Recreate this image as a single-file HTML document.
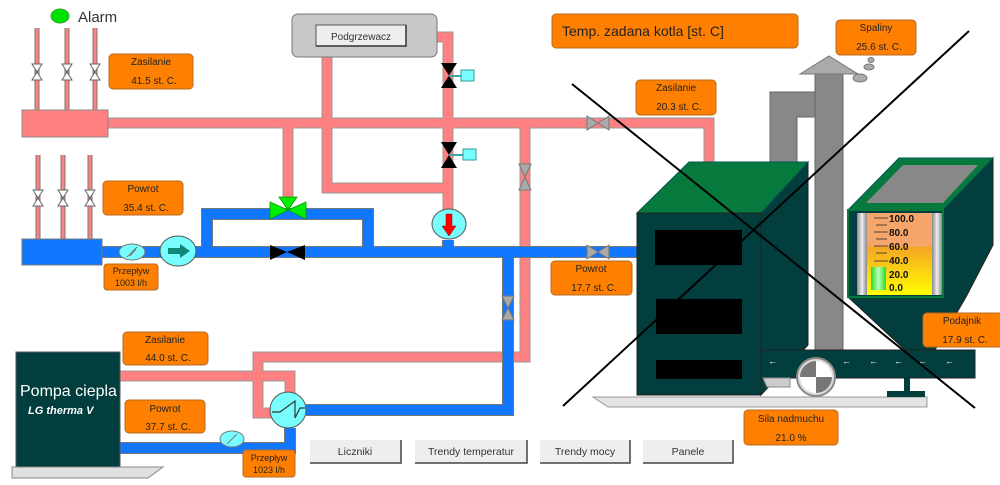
<!DOCTYPE html>
<html><head><meta charset="utf-8"><style>
html,body{margin:0;padding:0;background:#fff;width:1000px;height:485px;overflow:hidden}
svg text{font-family:"Liberation Sans",sans-serif}
</style></head><body>
<svg width="1000" height="485" viewBox="0 0 1000 485" xmlns="http://www.w3.org/2000/svg">
<defs>
<linearGradient id="gg" x1="0" y1="0" x2="0" y2="1">
<stop offset="0" stop-color="#f6a66a"/><stop offset="0.4" stop-color="#f6a66a"/><stop offset="0.42" stop-color="#f5a623"/><stop offset="1" stop-color="#ffff00"/></linearGradient>
<linearGradient id="gs" x1="0" y1="0" x2="1" y2="0"><stop offset="0" stop-color="#888"/><stop offset="0.5" stop-color="#eee"/><stop offset="1" stop-color="#888"/></linearGradient>
<linearGradient id="gb" x1="0" y1="0" x2="1" y2="0"><stop offset="0" stop-color="#22dd22"/><stop offset="0.5" stop-color="#bbffbb"/><stop offset="1" stop-color="#22dd22"/></linearGradient>
</defs>
<g fill="none" stroke-linejoin="miter">
<!-- red small risers -->
<g stroke="#777" stroke-width="5"><path d="M37 28V110M67 28V110M95 28V110M38 155V239M63 155V239M90 155V239"/></g>
<g stroke="#ff8080" stroke-width="3"><path d="M37 28V110M67 28V110M95 28V110M38 155V239M63 155V239M90 155V239"/></g>
<!-- red pipes outline -->
<g stroke="#999" stroke-width="11">
<path d="M108 123H709V163"/><path d="M288 123V200"/><path d="M327 57V188H445"/><path d="M437 37H448V210"/><path d="M525 123V357H258V413H272"/><path d="M120 376H290V393"/>
</g>
<g stroke="#ff8080" stroke-width="9">
<path d="M108 123H709V163"/><path d="M288 123V200"/><path d="M327 57V188H445"/><path d="M437 37H448V210"/><path d="M525 123V357H258V413H272"/><path d="M120 376H290V393"/>
</g>
<!-- blue pipes -->
<g stroke="#777" stroke-width="12">
<path d="M102 252H640"/><path d="M207 252V214H368V252"/><path d="M448 240V252"/><path d="M306 410H508V252"/><path d="M120 448H290V428"/>
</g>
<g stroke="#1177ff" stroke-width="10">
<path d="M102 252H640"/><path d="M207 252V214H368V252"/><path d="M448 240V252"/><path d="M306 410H508V252"/><path d="M120 448H290V428"/>
</g>
</g>
<!-- headers -->
<rect x="22" y="110" width="86" height="27" fill="#ff8080" stroke="#888"/>
<rect x="22" y="239" width="80" height="26" fill="#1177ff" stroke="#777"/>
<!-- small white valves -->
<g fill="#fff" stroke="#666" stroke-width="1">
<path d="M32 64H42L32 80H42Z"/><path d="M62 64H72L62 80H72Z"/><path d="M90 64H100L90 80H100Z"/>
<path d="M33 190H43L33 206H43Z"/><path d="M58 190H68L58 206H68Z"/><path d="M85 190H95L85 206H95Z"/>
</g>
<!-- Alarm -->
<ellipse cx="60" cy="16" rx="9" ry="7" fill="#00e000" stroke="#3a3"/>
<text x="78" y="22" font-size="15" fill="#333">Alarm</text>
<!-- Podgrzewacz -->
<rect x="292" y="14" width="145" height="43" rx="6" fill="#c8c8c8" stroke="#777"/>
<rect x="316" y="25" width="90" height="21" fill="#eee" stroke="#555" stroke-width="1"/>
<path d="M316 46H406V25" stroke="#333" stroke-width="1.5" fill="none"/>
<text x="361" y="40" font-size="10" text-anchor="middle" fill="#333">Podgrzewacz</text>
<!-- black valves with actuators -->
<g fill="#000"><path d="M441 63H457L441 88H457Z"/><path d="M441 142H457L441 168H457Z"/>
<path d="M270 245V260L287 252ZM305 245V260L287 252Z"/></g>
<g stroke="#3aa" stroke-width="2"><path d="M449 76H462M449 155H464"/></g>
<rect x="461" y="70" width="13" height="11" fill="#7ff" stroke="#399"/>
<rect x="463" y="149" width="13" height="11" fill="#7ff" stroke="#399"/>
<!-- green 3-way valve -->
<g fill="#00ee00" stroke="#090" stroke-width="0.8"><path d="M279 197H297L288 210Z"/><path d="M270 202V219L288 210Z"/><path d="M306 202V219L288 210Z"/></g>
<!-- gray valves -->
<g fill="#aaa" stroke="#777"><path d="M587 116V130L598 123ZM609 116V130L598 123Z"/><path d="M587 245V259L598 252ZM609 245V259L598 252Z"/>
<path d="M519 164H531L525 177ZM519 190H531L525 177Z"/><path d="M502 296H514L508 308ZM502 320H514L508 308Z"/></g>
<!-- pumps -->
<ellipse cx="449" cy="224" rx="17" ry="15" fill="#7ff" stroke="#555"/>
<path d="M446 214H452V226H456L449 236L442 226H446Z" fill="#f00" stroke="#900" stroke-width="0.5"/>
<ellipse cx="178" cy="251" rx="18" ry="15" fill="#7ff" stroke="#555"/>
<path d="M168 248H180V244L190 251L180 258V254H168Z" fill="#187" />
<ellipse cx="132" cy="252" rx="13" ry="8" fill="#7ff" stroke="#777"/>
<path d="M127 257L137 247M130 256L136 249" stroke="#777" stroke-width="1"/>
<ellipse cx="232" cy="439" rx="12" ry="8" fill="#7ff" stroke="#777"/>
<path d="M227 444L237 434" stroke="#777"/>
<!-- heat exchanger -->
<circle cx="288" cy="410" r="18" fill="#7ff" stroke="#555"/>
<path d="M272 412H280L295 401V418L300 408H305" stroke="#333" fill="none" stroke-width="1.2"/>
<!-- heat pump -->
<rect x="16" y="352" width="104" height="115" fill="#023e3e" stroke="#555"/>
<path d="M12 467H163L148 478H12Z" fill="#e0e0e0" stroke="#888"/>
<text x="20" y="396" font-size="16" fill="#fff">Pompa ciepla</text>
<text x="28" y="414" font-size="11" fill="#fff" font-weight="bold" font-style="italic">LG therma V</text>
<!-- buttons -->
<g font-size="10.5" fill="#333" text-anchor="middle">
<rect x="310" y="440" width="91" height="23" fill="#eee"/><path d="M310 463H401V440" stroke="#444" stroke-width="1.5" fill="none"/><text x="355" y="455">Liczniki</text>
<rect x="415" y="440" width="112" height="23" fill="#eee"/><path d="M415 463H527V440" stroke="#444" stroke-width="1.5" fill="none"/><text x="471" y="455">Trendy temperatur</text>
<rect x="540" y="440" width="90" height="23" fill="#eee"/><path d="M540 463H630V440" stroke="#444" stroke-width="1.5" fill="none"/><text x="585" y="455">Trendy mocy</text>
<rect x="643" y="440" width="90" height="23" fill="#eee"/><path d="M643 463H733V440" stroke="#444" stroke-width="1.5" fill="none"/><text x="688" y="455">Panele</text>
</g>
<!-- chimney -->
<path d="M770 92H815V117H797V162H770Z" fill="#888" stroke="#666"/>
<rect x="815" y="74" width="28" height="278" fill="#888" stroke="#666"/>
<path d="M800 74L829 56L858 74Z" fill="#aaa" stroke="#777"/>
<ellipse cx="860" cy="78" rx="7" ry="4" fill="#aaa" stroke="#777"/>
<ellipse cx="869" cy="67" rx="5" ry="3" fill="#aaa" stroke="#777"/>
<ellipse cx="871" cy="60" rx="3" ry="2.5" fill="#aaa" stroke="#777"/>
<!-- boiler -->
<path d="M593 397H927V407H608Z" fill="#e4e4e4" stroke="#999"/>
<path d="M761 213L808 162V345L761 395Z" fill="#023e3e" stroke="#222"/>
<path d="M637 213L689 162H808L761 213Z" fill="#067a3c" stroke="#055"/>
<rect x="637" y="213" width="124" height="182" fill="#023e3e" stroke="#222"/>
<rect x="655" y="230" width="87" height="35" fill="#000"/>
<rect x="656" y="299" width="86" height="35" fill="#000"/>
<rect x="656" y="360" width="86" height="19" fill="#000"/>
<!-- hopper -->
<path d="M943 210L993 158V245L966 297L935 350H905L848 297Z" fill="#023e3e" stroke="#222"/>
<path d="M848 210L899 158H993L943 210Z" fill="#067a3c" stroke="#055"/>
<path d="M866 203L903 165H978L943 203Z" fill="#888"/>
<rect x="848" y="210" width="95" height="87" fill="#023e3e" stroke="#067a3c" stroke-width="2"/>
<rect x="857" y="213" width="85" height="82" fill="#ddd"/>
<rect x="857" y="213" width="10" height="82" fill="url(#gs)"/><rect x="932" y="213" width="10" height="82" fill="url(#gs)"/>
<rect x="867" y="213" width="65" height="82" fill="url(#gg)"/>
<rect x="871" y="267" width="15" height="23" fill="url(#gb)"/>
<g stroke="#543" stroke-width="1"><path d="M874 218H888M876 225H887M874 232H888M876 239H887M874 246H888M876 253H887M874 261H888"/></g>
<g font-size="10" font-weight="bold" fill="#111"><text x="889" y="222">100.0</text><text x="889" y="236">80.0</text><text x="889" y="250">60.0</text><text x="889" y="264">40.0</text><text x="889" y="278">20.0</text><text x="889" y="291">0.0</text></g>
<!-- conveyor -->
<rect x="761" y="350" width="214" height="28" fill="#023e3e" stroke="#222"/>
<path d="M763 378H790V387H767Z" fill="#ccc" stroke="#888"/>
<rect x="904" y="378" width="6" height="14" fill="#023e3e"/><rect x="887" y="391" width="38" height="6" fill="#023e3e"/>
<g fill="#fff" font-size="9"><text x="768" y="364">←</text><text x="842" y="364">←</text><text x="869" y="364">←</text><text x="894" y="364">←</text><text x="918" y="364">←</text><text x="945" y="364">←</text></g>
<circle cx="816" cy="377" r="19" fill="#ddd" stroke="#888" stroke-width="2"/>
<path d="M816 377V361A16 16 0 0 0 800 377Z M816 377V393A16 16 0 0 0 832 377Z" fill="#777"/>
<path d="M816 377V361A16 16 0 0 1 832 377Z M816 377V393A16 16 0 0 1 800 377Z" fill="#fff"/>
<!-- labels -->
<g font-size="10" fill="#222" text-anchor="middle" stroke-width="1">
<rect x="552" y="14" width="246" height="34" rx="4" fill="#ff8000" stroke="#b86a20"/><text x="562" y="36" font-size="14" text-anchor="start">Temp. zadana kotla [st. C]</text>
<rect x="836" y="20" width="80" height="35" rx="4" fill="#ff8000" stroke="#b86a20"/><text x="876" y="31">Spaliny</text><text x="879" y="50">25.6 st. C.</text>
<rect x="636" y="80" width="80" height="35" rx="4" fill="#ff8000" stroke="#b86a20"/><text x="676" y="91">Zasilanie</text><text x="679" y="110">20.3 st. C.</text>
<rect x="551" y="261" width="81" height="34" rx="4" fill="#ff8000" stroke="#b86a20"/><text x="591" y="272">Powrot</text><text x="594" y="291">17.7 st. C.</text>
<rect x="923" y="313" width="80" height="34" rx="4" fill="#ff8000" stroke="#b86a20"/><text x="962" y="324">Podajnik</text><text x="965" y="343">17.9 st. C.</text>
<rect x="744" y="410" width="94" height="35" rx="4" fill="#ff8000" stroke="#b86a20"/><text x="791" y="422">Sila nadmuchu</text><text x="791" y="441">21.0  %</text>
<rect x="109" y="54" width="84" height="35" rx="4" fill="#ff8000" stroke="#b86a20"/><text x="151" y="65">Zasilanie</text><text x="154" y="84">41.5 st. C.</text>
<rect x="103" y="181" width="80" height="34" rx="4" fill="#ff8000" stroke="#b86a20"/><text x="143" y="192">Powrot</text><text x="146" y="211">35.4 st. C.</text>
<rect x="104" y="264" width="54" height="26" rx="3" fill="#ff8000" stroke="#b86a20"/><text x="131" y="274" font-size="9">Przepływ</text><text x="131" y="286" font-size="9">1003 l/h</text>
<rect x="123" y="332" width="85" height="33" rx="4" fill="#ff8000" stroke="#b86a20"/><text x="165" y="343">Zasilanie</text><text x="168" y="361">44.0 st. C.</text>
<rect x="125" y="400" width="80" height="33" rx="4" fill="#ff8000" stroke="#b86a20"/><text x="165" y="412">Powrot</text><text x="168" y="430">37.7 st. C.</text>
<rect x="243" y="450" width="52" height="27" rx="3" fill="#ff8000" stroke="#b86a20"/><text x="269" y="461" font-size="9">Przepływ</text><text x="269" y="473" font-size="9">1023 l/h</text>
</g>
<!-- X lines -->
<g stroke="#000" stroke-width="2"><path d="M572 84L975 408"/><path d="M563 406L969 31"/></g>
</svg>
</body></html>
